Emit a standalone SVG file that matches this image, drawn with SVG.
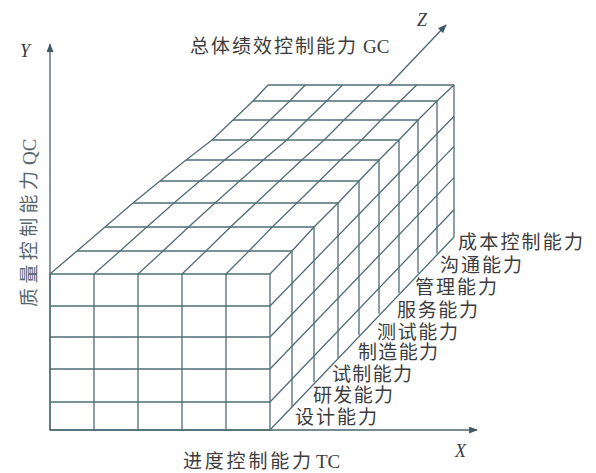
<svg xmlns="http://www.w3.org/2000/svg" width="596" height="473" viewBox="0 0 596 473">
<defs>
<marker id="arr" viewBox="0 0 10 8" refX="9" refY="4" markerWidth="9" markerHeight="7" markerUnits="userSpaceOnUse" orient="auto">
<path d="M0,0 L10,4 L0,8 z" fill="#3f5a62"/>
</marker>
</defs>
<style>
.g{fill:none;stroke:#4f6d75;stroke-width:1.3;stroke-linejoin:round}
.ax{fill:none;stroke:#4a666e;stroke-width:1.3}
.t{font-family:"Liberation Serif","Noto Sans CJK SC",serif;fill:#3c3c3c;font-size:19px}
.v{font-family:"Liberation Serif",serif;font-style:italic;fill:#3c3c3c;font-size:18px}
</style>
<rect width="596" height="473" fill="#ffffff"/>
<g id="axes">
<line class="ax" x1="50" y1="430" x2="50" y2="44" marker-end="url(#arr)"/>
<line class="ax" x1="50" y1="430" x2="477" y2="430" marker-end="url(#arr)"/>
<line class="ax" x1="389" y1="85" x2="446" y2="25" marker-end="url(#arr)"/>
</g>
<g id="front-face">
<rect class="g" x="50" y="274" width="220" height="156"/>
<path class="g" d="M94,274V430M138,274V430M182,274V430M226,274V430M50,306H270M50,337H270M50,369H270M50,402H270"/>
</g>
<g id="top-face">
<polyline class="g" points="50,274 77,251 105,227 133,203 160,181 186,160 212,140 233,120 253,101 268,85"/>
<polyline class="g" points="270,274 292,251 314,227 338,203 359,181 379,160 399,140 418,120 437,101 454,85"/>
<path class="g" d="M77,251H292M105,227H314M133,203H338M160,181H359M186,160H379M212,140H399M233,120H418M253,101H437M268,85H454"/>
<polyline class="g" points="94,274 120,251 146.8,227 174,203 199.8,181 224.6,160 249.4,140 270,120 289.8,101 305.2,85"/>
<polyline class="g" points="138,274 163,251 188.6,227 215,203 239.6,181 263.2,160 286.8,140 307,120 326.6,101 342.4,85"/>
<polyline class="g" points="182,274 206,251 230.4,227 256,203 279.4,181 301.8,160 324.2,140 344,120 363.4,101 379.6,85"/>
<polyline class="g" points="226,274 249,251 272.2,227 297,203 319.2,181 340.4,160 361.6,140 381,120 400.2,101 416.8,85"/>
</g>
<g id="right-face">
<path class="g" d="M292,251V406.6M314,227V382.1M338,203V357.7M359,181V335.2M379,160V313.8M399,140V293.3M418,120V272.9M437,101V253.4M454,85V237"/>
<path class="g" d="M270,430L454,237M270,306L454,116.2M270,337L454,146.4M270,369L454,177.6M270,402L454,209.8"/>
</g>
<g id="axis-labels">
<text class="v" x="20" y="57">Y</text>
<text class="v" x="417" y="26">Z</text>
<text class="v" x="455" y="457">X</text>
<text class="t" x="190" y="53"><tspan textLength="166" lengthAdjust="spacing">总体绩效控制能力</tspan><tspan x="363">GC</tspan></text>
<text class="t" x="183" y="468"><tspan textLength="128" lengthAdjust="spacing">进度控制能力</tspan><tspan x="316">TC</tspan></text>
<text class="t" transform="translate(36,307) rotate(-90)" y="0" style="fill:#56666c"><tspan x="0" textLength="136" lengthAdjust="spacing">质量控制能力</tspan><tspan x="142">QC</tspan></text>
</g>
<g id="dimension-labels">
<text class="t" x="295" y="424" textLength="82" lengthAdjust="spacing">设计能力</text>
<text class="t" x="313" y="402" textLength="80" lengthAdjust="spacing">研发能力</text>
<text class="t" x="332" y="381" textLength="80" lengthAdjust="spacing">试制能力</text>
<text class="t" x="358" y="359" textLength="80" lengthAdjust="spacing">制造能力</text>
<text class="t" x="377" y="339" textLength="81" lengthAdjust="spacing">测试能力</text>
<text class="t" x="397" y="317" textLength="81" lengthAdjust="spacing">服务能力</text>
<text class="t" x="415" y="294" textLength="82" lengthAdjust="spacing">管理能力</text>
<text class="t" x="440" y="272" textLength="82" lengthAdjust="spacing">沟通能力</text>
<text class="t" x="458" y="249" textLength="125" lengthAdjust="spacing">成本控制能力</text>
</g>
</svg>
